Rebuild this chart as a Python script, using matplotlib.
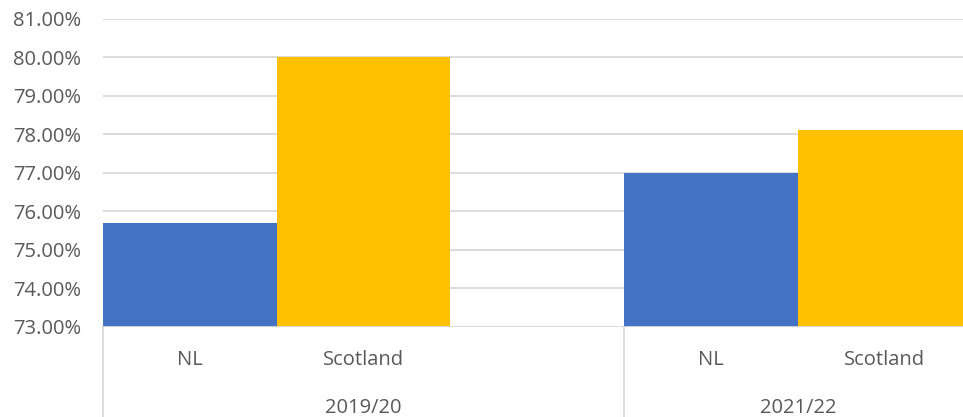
import matplotlib.pyplot as plt
from matplotlib.ticker import FuncFormatter

# data
years = ['2019/20', '2021/22']
areas = ['NL', 'Scotland']
nl_rate = [75.70, 77.00]
scotland_rate = [80.00, 78.10]
colours = ['#4472C4', '#FFC000']

plt.rcParams['font.family'] = ['Open Sans', 'DejaVu Sans']
txt = '#595959'
grid = '#D9D9D9'
fs = 14.5

fig = plt.figure(figsize=(9.63, 4.17), dpi=100)
ax = fig.add_axes([103 / 963, (417 - 326.5) / 417, 1 - 103 / 963, (326.5 - 19) / 417])

# each year group is 3 bar-widths wide, bars sit in the first two slots
group_w = 3
for i, vals in enumerate([nl_rate, scotland_rate]):
    xs = [g * group_w + i + 0.5 for g in range(len(years))]
    ax.bar(xs, [v - 73 for v in vals], bottom=73, width=1.0, color=colours[i], zorder=3)

ax.set_ylim(73, 81)
ax.set_xlim(0, (963 - 103) / 173.7)
ax.set_yticks(range(73, 82))
ax.yaxis.set_major_formatter(FuncFormatter(lambda v, p: '%.2f%%' % v))
ax.tick_params(axis='y', length=0, pad=15.5, labelsize=fs, labelcolor=txt)
ax.set_xticks([])
ax.grid(axis='y', color=grid, linewidth=1.3, zorder=0)
for s in ax.spines.values():
    s.set_visible(False)
ax.axhline(73, color=grid, linewidth=1.3, zorder=4)

# two-level category axis below the plot
trans = ax.get_xaxis_transform()
for g, year in enumerate(years):
    x0 = g * group_w
    ax.plot([x0, x0], [0, -0.3], color=grid, linewidth=1.3, transform=trans, clip_on=False)
    for i, a in enumerate(areas):
        ax.text(x0 + i + 0.5, -0.108, a, transform=trans, ha='center', va='center',
                fontsize=fs, color=txt)
ax.text(1.5, -0.266, years[0], transform=trans, ha='center', va='center', fontsize=fs, color=txt)
ax.text(4.0, -0.266, years[1], transform=trans, ha='center', va='center', fontsize=fs, color=txt)

fig.savefig('out.png', dpi=100)
